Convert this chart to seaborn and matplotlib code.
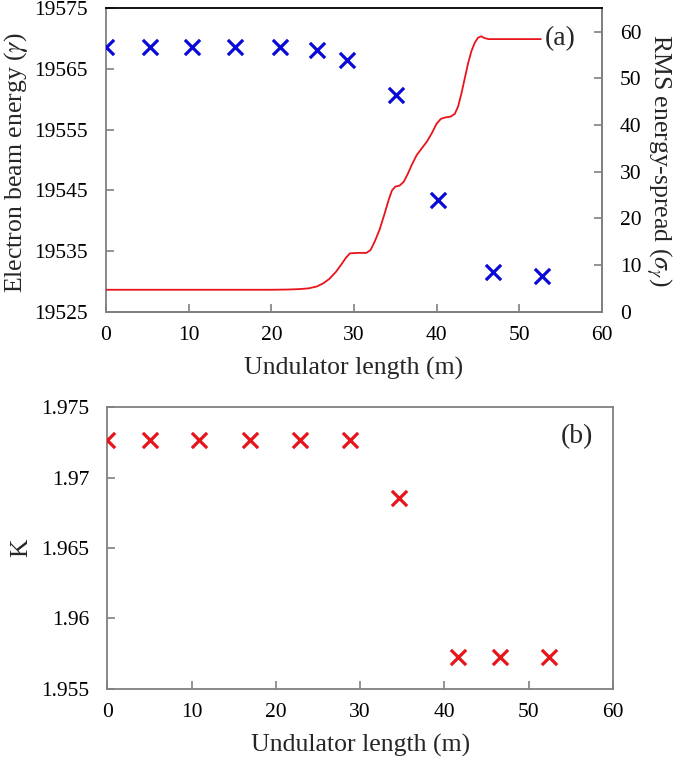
import numpy as np
import seaborn as sns
import matplotlib.pyplot as plt

# (a) electron beam energy at undulator sections
len_a = [0, 5.3, 10.4, 15.6, 21.0, 25.5, 29.2, 35.1, 40.2, 46.8, 52.7]
energy = [19568.7, 19568.7, 19568.7, 19568.7, 19568.7, 19568.2, 19566.5,
          19560.7, 19543.4, 19531.6, 19530.9]

# (a) rms energy spread along the undulator
len_rms = [0, 10, 20, 22, 23.5, 24.5, 25.5, 26.3, 27.0, 27.8, 28.5, 29.0,
           29.5, 30.5, 31.5, 32.0, 32.5, 33.1, 33.7, 34.2, 34.6, 35.0, 35.5,
           36.0, 36.5, 37.0, 37.6, 38.2, 38.8, 39.4, 40.0, 40.5, 41.0, 41.7,
           42.2, 42.6, 43.0, 43.4, 43.8, 44.2, 44.6, 45.0, 45.4, 45.8, 46.3,
           47.0, 52.6]
rms = [4.7, 4.7, 4.7, 4.75, 4.85, 5.0, 5.4, 6.1, 7.0, 8.5, 10.2, 11.5,
       12.5, 12.6, 12.6, 13.2, 15.0, 17.6, 21.0, 24.0, 26.0, 26.8, 27.0,
       27.8, 29.5, 31.5, 33.6, 35.0, 36.4, 38.2, 40.3, 41.3, 41.6, 41.8,
       42.4, 44.0, 46.8, 50.0, 53.2, 55.8, 57.6, 58.7, 59.0, 58.6, 58.4,
       58.4, 58.4]

# (b) undulator K values
len_b = [0, 5.1, 10.9, 16.9, 22.9, 28.8, 34.6, 41.6, 46.6, 52.4]
k_vals = [1.97267, 1.97267, 1.97267, 1.97267, 1.97267, 1.97267, 1.96852,
          1.95725, 1.95725, 1.95725]

sns.set_style('ticks')
plt.rcParams['font.family'] = ['Liberation Serif', 'DejaVu Serif']
plt.rcParams['mathtext.fontset'] = 'stix'
plt.rcParams['xtick.direction'] = 'in'
plt.rcParams['ytick.direction'] = 'in'

grey = '#808080'
fig = plt.figure(figsize=(6.75, 7.64), dpi=100)
ax1 = fig.add_axes([106 / 675, 1 - 311.7 / 764, 496 / 675, 303.4 / 764])
ax2 = ax1.twinx()
ax3 = fig.add_axes([107.3 / 675, 1 - 688.7 / 764, 505.7 / 675, 281.4 / 764])

sns.lineplot(x=len_rms, y=rms, ax=ax2, color='#e8141b', linewidth=1.3)
sns.scatterplot(x=len_a, y=energy, ax=ax1, marker='x', color='#0a0ad8',
                s=120, linewidth=2.3, zorder=5)
sns.scatterplot(x=len_b, y=k_vals, ax=ax3, marker='x', color='#e8141b',
                s=120, linewidth=2.3, zorder=5)

ax1.set_xlim(0, 60)
ax1.set_ylim(19525, 19575)
ax1.set_yticks(np.arange(19525, 19576, 10))
ax1.set_xticks(range(0, 61, 10))
ax2.set_ylim(0, 65)
ax2.set_yticks(range(0, 61, 10))
ax3.set_xlim(0, 60)
ax3.set_ylim(1.955, 1.975)
ax3.set_yticks([1.955, 1.96, 1.965, 1.97, 1.975])
ax3.set_yticklabels(['1.955', '1.96', '1.965', '1.97', '1.975'])
ax3.set_xticks(range(0, 61, 10))

for ax in (ax1, ax2, ax3):
    for s in ax.spines.values():
        s.set_color(grey)
        s.set_linewidth(1.3)
    ax.tick_params(labelsize=15.5, length=6, width=1.2, color=grey,
                   labelcolor='black')
    ax.tick_params(axis='x', pad=10)
    ax.tick_params(axis='y', pad=13)
ax1.spines['top'].set_visible(False)
ax2.spines['top'].set_color('black')
ax2.spines['left'].set_visible(False)

lab = 18.5
ax1.set_xlabel('Undulator length (m)', fontsize=lab, labelpad=9)
ax1.set_ylabel(r'Electron beam energy ($\gamma$)', fontsize=lab,
               va='center')
ax1.yaxis.set_label_coords(-0.182, 0.49)
ax2.set_ylabel(r'RMS energy-spread ($\sigma_\gamma$)', fontsize=lab,
               rotation=270, va='center')
ax2.yaxis.set_label_coords(1.115, 0.5)
ax3.set_xlabel('Undulator length (m)', fontsize=lab, labelpad=9)
ax3.set_ylabel('K', fontsize=lab, va='center')
ax3.yaxis.set_label_coords(-0.17, 0.5)

ax1.text(0.915, 0.9, '(a)', transform=ax1.transAxes, fontsize=20,
         ha='center', va='center')
ax3.text(0.929, 0.895, '(b)', transform=ax3.transAxes, fontsize=20,
         ha='center', va='center')

fig.savefig('out.png', dpi=100)
